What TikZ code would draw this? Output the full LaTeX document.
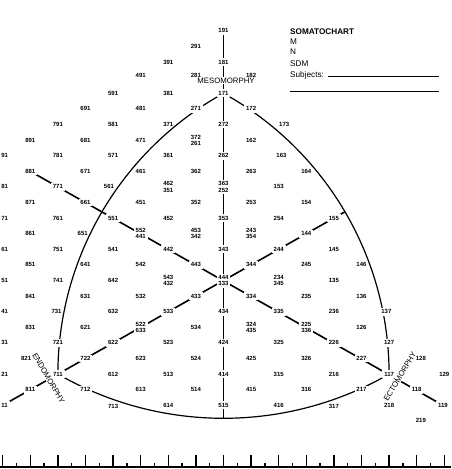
\documentclass[tikz,border=0pt]{standalone}
\usepackage{fontspec}
\setmainfont{Liberation Sans}
\pgfdeclarelayer{bg}
\pgfsetlayers{bg,main}
\tikzset{
  num/.style={font=\fontsize{6}{6.2}\selectfont\bfseries, inner sep=0.5pt, align=center},
  onl/.style={num, fill=white, inner sep=1.8pt},
  axisline/.style={line width=1.6pt, draw=black},
  arcline/.style={line width=1.2pt, draw=black},
  axisname/.style={font=\fontsize{7.8}{8}\selectfont, fill=white, inner sep=0.7pt},
  head/.style={font=\fontsize{8.2}{9}\selectfont, anchor=base west, inner sep=0pt},
  rulerline/.style={line width=1.3pt},
}
\begin{document}
\begin{tikzpicture}[x=1pt,y=1pt]
\useasboundingbox (0,-469) rectangle (451,0);
\begin{scope}
\clip (0,-469) rectangle (451,0);
% axis names
\node[axisname] (meso) at (226,-80.5) {MESOMORPHY};
\node[axisname, rotate=-60] (endo) at (48.7,-378.3) {ENDOMORPHY};
\node[axisname, rotate=59] (ecto) at (400,-376.5) {ECTOMORPHY};
\begin{scope}[shift={(223.5,-280.5)}, x=27.6pt, y=15.6pt]
% plain grid labels
\foreach \x/\y/\t in {
 -1/15/291,
 -2/14/391,
 -3/13.15/491, -1/13.15/281, 1/13.15/182,
 -4/12/591, -2/12/381,
 -5/11/691, -3/11/481,
 -6/10/791, -4/10/581, -2/10/371, 2.2/10/173,
 -7/9/891, -5/9/681, -3/9/471, 1/9/162,
 -6/8/781, -4/8/571, -2/8/361, 2.1/8/163,
 -5/7/671, -3/7/461, -1/7/362, 1/7/263, 3/7/164,
 -4.15/6/561, 2/6/153,
 -7/5/871, -3/5/451, -1/5/352, 1/5/253, 3/5/154,
 -6/4/761, -2/4/452, 2/4/254,
 -7/3/861, -5.1/3/651,
 -6/2/751, -4/2/541, 4/2/145,
 -7/1/851, -5/1/641, -3/1/542, 3/1/245, 5/1/146,
 -6/0/741, -4/0/642, 4/0/135,
 -7/-1/841, -5/-1/631, -3/-1/532, 3/-1/235, 5/-1/136,
 -6.05/-2/731, -4/-2/632, 4/-2/236,
 -7/-3/831, -5/-3/621, -1/-3/534, 5/-3/126,
 -2/-4/523, 2/-4/325,
 -7.15/-5/821, -3/-5/623, -1/-5/524, 1/-5/425, 3/-5/326, 7.15/-5/128,
 -4/-6/612, -2/-6/513, 2/-6/315, 4/-6/216, 8/-6/129,
 -3/-7/613, -1/-7/514, 1/-7/415, 3/-7/316,
 -4/-8.1/713, -2/-8/614, 2/-8/416, 4/-8.1/317, 6/-8/218,
 7.15/-9/219}
 \node[num] (g\t) at (\x,\y) {\t};
% labels cut by the left edge of the sheet
\foreach \y/\t in {8/91, 6/81, 4/71, 2/61, 0/51, -2/41, -4/31, -6/21}
 \node[num] (e\t) at (-7.93,\y) {\t};
% stacked plain labels
\node[num] (s372) at (-1,9) {372\\261};
\node[num] (s462) at (-2,6) {462\\351};
\node[num] (s453) at (-1,3) {453\\342};
\node[num] (s243) at (1,3) {243\\354};
\node[num] (s543) at (-2,0) {543\\432};
\node[num] (s234) at (2,0) {234\\345};
\node[num] (s324) at (1,-3) {324\\435};
% labels lying on lines
\foreach \x/\y/\t in {
 0/16/191, 0/14/181, 0/12/171, 0/10/272, 0/8/262, 0/4/353, 0/2/343,
 0/-2/434, 0/-4/424, 0/-6/414, 0/-8/515,
 -7/7/881, -6/6/771, -5/5/661, -4/4/551, -2/2/442, -1/1/443,
 1/-1/334, 2/-2/335, 4/-4/226, 5/-5/227, 6/-6/117, 7/-7/118, 7.95/-8/119,
 -7/-7/811, -6/-6/711, -5/-5/722, -4/-4/622, -2/-2/533, -1/-1/433,
 1/1/344, 2/2/244, 3/3/144, 4/4/155,
 -1/11/271, -6/-4/721, 1/11/172, 6/-4/127, 5.9/-2/137, -5/-7/712, 5/-7/217}
 \node[onl] (n\t) at (\x,\y) {\t};
\coordinate (c911) at (-8,-8);
\node[onl] (n911) at (-7.93,-8) {11};
\node[onl] (n363) at (0,6) {363\\252};
\node[onl] (n444) at (0,0) {444\\333};
\node[onl] (n552) at (-3,3) {552\\441};
\node[onl] (n225) at (3,-3) {225\\336};
\node[onl] (n522) at (-3,-3) {522\\633};
\coordinate (vb) at (0,-8.833);
\coordinate (ne) at (4.403,4.403);
\end{scope}
\begin{pgfonlayer}{bg}
\draw[axisline] (n191.center) -- (vb);
\draw[axisline] (n881.center) -- (n119.center);
\draw[axisline] (c911) -- (ne);
\draw[arcline] (n171.center)
   arc[start angle=118.94, end angle=180, radius=320.87pt]
   arc[start angle=240.11, end angle=299.89, radius=332.3pt]
   arc[start angle=0, end angle=61.06, radius=320.87pt];
\end{pgfonlayer}
% ruler
\draw[line width=2pt] (0,-466.8) -- (451,-466.8);
\foreach \k in {-8,...,8} \draw[rulerline] ({223.5+27.6*\k},-466.8) -- ++(0,11.5);
\foreach \k in {-8,...,7} \draw[rulerline] ({237.3+27.6*\k},-466.8) -- ++(0,3.8);
\end{scope}
% header
\node[head, font=\fontsize{8.2}{9}\selectfont\bfseries] (title) at (290,-34) {SOMATOCHART};
\node[head] (hm) at (290,-44.7) {M};
\node[head] (hn) at (290,-54.7) {N};
\node[head] (hsdm) at (290,-66) {SDM};
\node[head] (hsub) at (290,-77.3) {Subjects:};
\draw[line width=0.9pt] (328,-76.7) -- (439,-76.7);
\draw[line width=0.9pt] (290,-91.7) -- (439,-91.7);
\end{tikzpicture}
\end{document}
